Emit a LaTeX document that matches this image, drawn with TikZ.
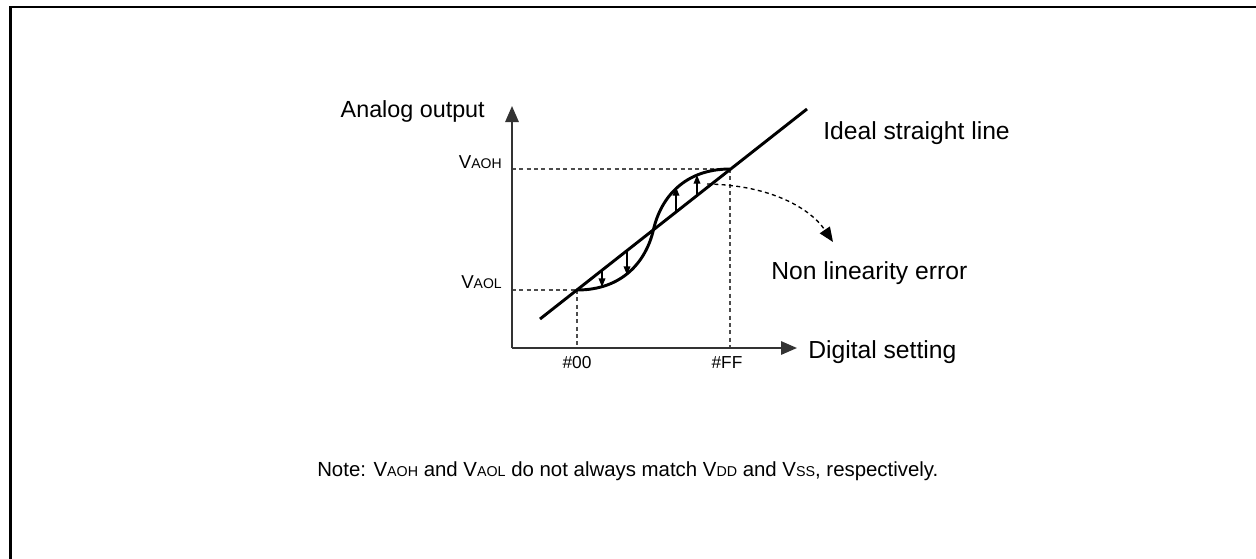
\documentclass[tikz,border=0pt]{standalone}
\usepackage{fontspec}
\setmainfont{Liberation Sans}
\usetikzlibrary{arrows.meta}
\newcommand{\sbs}[2]{{\fontsize{#1}{#1}\selectfont #2}}
\begin{document}
\begin{tikzpicture}[x=0.75pt,y=-0.75pt,
  thick line/.style={line width=2.2pt,black},
  axis line/.style={line width=1.5pt,black!80,-{Triangle[length=12pt,width=10pt]}},
  guide/.style={line width=1pt,black!70,dash pattern=on 3pt off 2.5pt},
  err/.style={line width=1pt,-{Triangle[length=6.5pt,width=5pt]}},
  big/.style={font=\fontsize{17.5pt}{20pt}\selectfont,inner sep=0pt},
  bigr/.style={font=\fontsize{18.5pt}{21pt}\selectfont,inner sep=0pt},
  mid/.style={font=\fontsize{14pt}{16pt}\selectfont,inner sep=0pt},
  small/.style={font=\fontsize{13pt}{15pt}\selectfont,inner sep=0pt},
  notefont/.style={font=\fontsize{15.3pt}{17pt}\selectfont,inner sep=0pt}]
\useasboundingbox (0,0) rectangle (1256,558);
\draw[line width=2.2pt] (10.5,560) -- (10.5,7) -- (1260,7);
% key points
\coordinate (O) at (512,348);
\coordinate (ytip) at (512,106);
\coordinate (xtip) at (797,348);
\coordinate (L) at (577,290);
\coordinate (H) at (730,169);
\coordinate (C) at (653.5,229.5);
\coordinate (lstart) at (540,319);
\coordinate (lend) at (807,109);
\coordinate (yL) at (512,290);
\coordinate (yH) at (512,169);
\coordinate (xL) at (577,348);
\coordinate (xH) at (730,348);
% guides
\draw[guide] (yH) -- (H);
\draw[guide] (yL) -- (L);
\draw[guide] (L) -- (xL);
\draw[guide] (H) -- (xH);
% axes
\draw[axis line] (O) -- (ytip);
\draw[axis line] (O) -- (xtip);
% ideal line
\draw[thick line] (lstart) -- (lend);
% S curve
\draw[thick line] (L) .. controls (622,290) and (646,262) .. (C)
  .. controls (661,197) and (685,169) .. (H);
% error arrows
\coordinate (e1a) at (602,270); \coordinate (e1b) at (602,287);
\coordinate (e2a) at (627,252); \coordinate (e2b) at (627,275);
\coordinate (e3a) at (676,212); \coordinate (e3b) at (676,187);
\coordinate (e4a) at (697,195); \coordinate (e4b) at (697,175);
\draw[err] (e1a) -- (e1b);
\draw[err] (e2a) -- (e2b);
\draw[err] (e3a) -- (e3b);
\draw[err] (e4a) -- (e4b);
% dashed pointer
\coordinate (ds) at (707,184);
\coordinate (de) at (833,242);
\draw[line width=1pt,dash pattern=on 3pt off 2.5pt,-{Triangle[length=11pt,width=9pt]}]
  (ds) .. controls (770,185) and (810,208) .. (de);
% labels
\node[big,anchor=base east] (ylab) at (485,117) {Analog output};
\node[bigr,anchor=base west] (ideal) at (823,139) {Ideal straight line};
\node[bigr,anchor=base west] (nonlin) at (771,279) {Non linearity error};
\node[bigr,anchor=base west] (xlab) at (808,358) {Digital setting};
\node[mid,anchor=base east] (vaoh) at (502,168) {V\sbs{10.5pt}{AOH}};
\node[mid,anchor=base east] (vaol) at (502,288) {V\sbs{10.5pt}{AOL}};
\node[small,anchor=base] (x00) at (577,368) {\#00};
\node[small,anchor=base] (xFF) at (727,368) {\#FF};
\node[notefont,anchor=base west] (note) at (317,476) {Note: V\sbs{10.7pt}{AOH} and V\sbs{10.7pt}{AOL} do not always match V\sbs{10.7pt}{DD} and V\sbs{10.7pt}{SS}, respectively.};
\end{tikzpicture}
\end{document}
